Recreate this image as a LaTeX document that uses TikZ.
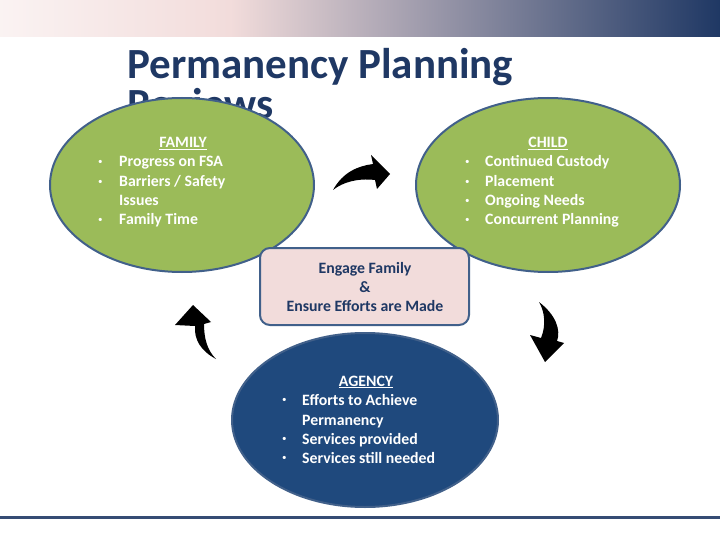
\documentclass[tikz,border=0pt]{standalone}
\usepackage{fontspec}
\setmainfont{Carlito}
\usetikzlibrary{shapes.geometric}
\definecolor{navy}{HTML}{1F3864}
\definecolor{grn}{HTML}{9BBB59}
\definecolor{edge}{HTML}{41608A}
\definecolor{agency}{HTML}{1F497D}
\definecolor{pinkbox}{HTML}{F2DCDB}
\begin{document}
\begin{tikzpicture}[x=1pt,y=-1pt,
  txt/.style={font=\fontsize{15.8}{17}\selectfont\bfseries, inner sep=0pt},
  wtxt/.style={txt, text=white},
  bul/.style={wtxt, font=\fontsize{9}{9}\selectfont},
  ell/.style={ellipse, draw=edge, line width=2pt, inner sep=0pt},
  arr/.style={fill=black}]
\useasboundingbox (0,0) rectangle (720,540);
\shade[left color=pinkbox!35!white, right color=pinkbox] (0,0) rectangle (230,37);
\shade[left color=pinkbox, right color=navy] (230,0) rectangle (720,37);
\node[anchor=base west, inner sep=0pt, text=navy, font=\fontsize{43}{46}\selectfont\bfseries] (t1) at (127,79) {Permanency Planning};
\node[anchor=base west, inner sep=0pt, text=navy, font=\fontsize{43}{46}\selectfont\bfseries] (t2) at (127,119) {Reviews};
% ellipses
\node[ell, fill=grn, minimum width=264pt, minimum height=174pt] (fam) at (182,185) {};
\node[ell, fill=grn, minimum width=264pt, minimum height=174pt] (chi) at (548,185) {};
\node[ell, fill=agency, minimum width=266pt, minimum height=174pt] (agy) at (365,420) {};
\node[draw=edge, line width=2pt, fill=pinkbox, rounded corners=10pt, minimum width=209pt, minimum height=77pt, inner sep=0pt] (eng) at (364.5,286.5) {};
% family text
\node[wtxt,anchor=base] (fh) at (183,148) {\underline{FAMILY}};
\foreach \y/\t [count=\i] in {167/{Progress on FSA},187/{Barriers / Safety},225/{Family Time}}{
  \node[bul,anchor=base west] (fb\i) at (98,\y-2.5) {•};
  \node[wtxt,anchor=base west] (ft\i) at (119,\y) {\t};}
\node[wtxt,anchor=base west] (ft4) at (119,206) {Issues};
% child
\node[wtxt,anchor=base] (ch) at (548,148) {\underline{CHILD}};
\foreach \y/\t [count=\i] in {167/{Continued Custody},187/{Placement},206/{Ongoing Needs},225/{Concurrent Planning}}{
  \node[bul,anchor=base west] (cb\i) at (465,\y-2.5) {•};
  \node[wtxt,anchor=base west] (ct\i) at (485,\y) {\t};}
% agency
\node[wtxt,anchor=base] (ah) at (366,386) {\underline{AGENCY}};
\foreach \y/\t [count=\i] in {405/{Efforts to Achieve},444/{Services provided},463/{Services still needed}}{
  \node[bul,anchor=base west] (ab\i) at (282,\y-2.5) {•};
  \node[wtxt,anchor=base west] (at\i) at (302,\y) {\t};}
\node[wtxt,anchor=base west] (at4) at (302,425) {Permanency};
% engage
\node[txt,text=navy,anchor=base] (e1) at (365,273) {Engage Family};
\node[txt,text=navy,anchor=base] (e2) at (365,292) {\&};
\node[txt,text=navy,anchor=base] (e3) at (365,311) {Ensure Efforts are Made};
% arrows
\fill[arr] (333,190) .. controls (343,172) and (358,166) .. (373,164) -- (371,155) -- (390,174) -- (377,189) -- (375,180) .. controls (358,178) and (343,182) .. cycle;
\fill[arr] (539,302) .. controls (556,315) and (561,330) .. (557,341) -- (564,343) -- (545,362) -- (530,335) -- (541,338) .. controls (546,326) and (545,312) .. cycle;
\fill[arr] (216,359) .. controls (201,351) and (194,340) .. (195,326) -- (175,325) -- (193,305) -- (211,322) -- (204,324) .. controls (204,338) and (207,350) .. cycle;
% bottom line
\draw[navy!90, line width=3pt] (0,517) -- (720,517);
\end{tikzpicture}
\end{document}
